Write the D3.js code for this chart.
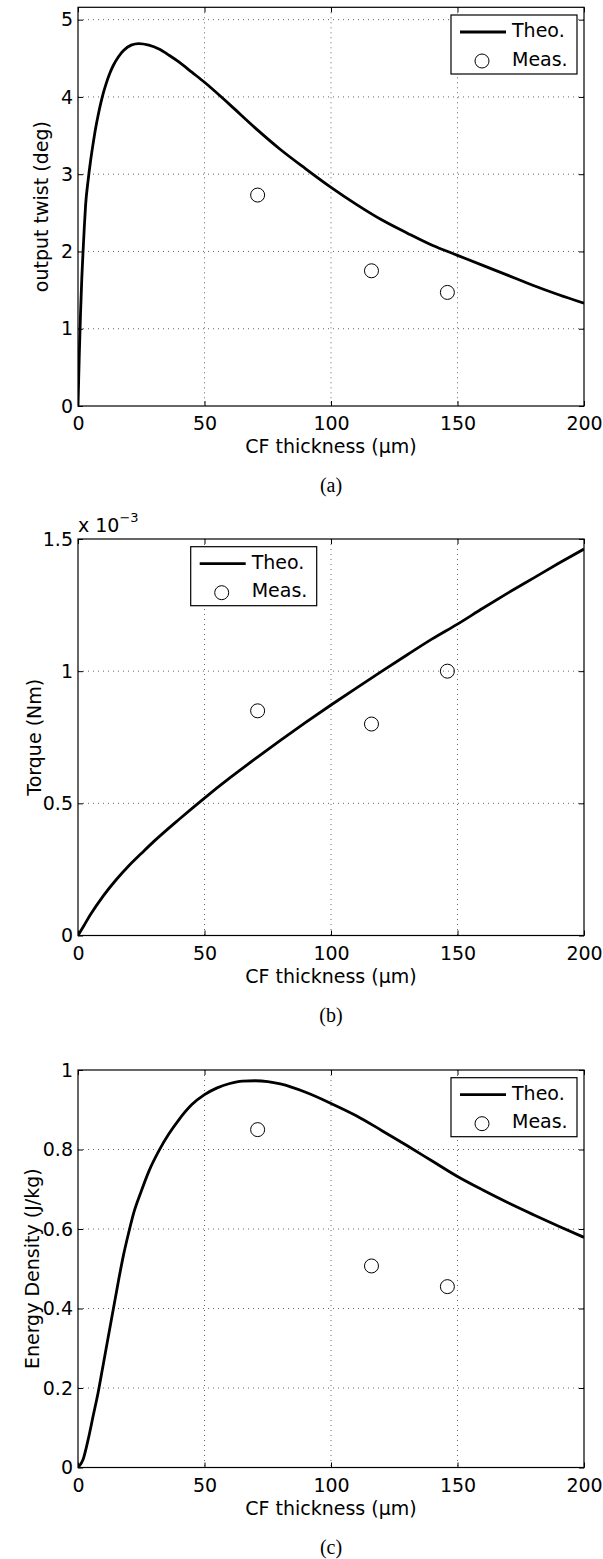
<!DOCTYPE html>
<html>
<head>
<meta charset="utf-8">
<script src="https://cdn.jsdelivr.net/npm/d3@7"></script>
<style>
  body { margin: 0; background: #fff; }
  text { font-family: "DejaVu Sans", "Liberation Sans", Arial, sans-serif; fill: #000; }
  .caption { font-family: "Liberation Serif", "Times New Roman", serif; }
</style>
</head>
<body>
<div id="main-container"></div>
<script>
// shared x axis
const xTicks = [0, 50, 100, 150, 200];
const measThickness = [71, 116, 146];

// (a) output twist (deg)
const twistX = [0, 0.5, 1, 1.5, 2, 2.5, 3, 4, 5, 6, 7, 8, 9, 10, 11, 12.5, 14, 16, 18, 21, 24, 28, 32, 36, 40, 45, 50, 60, 70, 80, 90, 100, 110, 120, 130, 140, 150, 160, 170, 180, 190, 200];
const twistTheo = [0, 0.65, 1.2, 1.65, 2.0, 2.32, 2.6, 2.92, 3.18, 3.4, 3.6, 3.77, 3.92, 4.05, 4.16, 4.3, 4.41, 4.52, 4.6, 4.67, 4.69, 4.67, 4.62, 4.54, 4.45, 4.32, 4.19, 3.9, 3.6, 3.32, 3.07, 2.83, 2.61, 2.41, 2.24, 2.08, 1.95, 1.82, 1.69, 1.56, 1.44, 1.33];
const twistMeas = [2.73, 1.75, 1.47];
const twistTicks = [0, 1, 2, 3, 4, 5];
const twistTickLabels = ['0', '1', '2', '3', '4', '5'];

// (b) torque, in units of 1e-3 Nm
const torqueX = [0, 2.5, 5, 10, 15, 20, 25, 30, 40, 50, 60, 70, 80, 90, 100, 110, 120, 130, 140, 150, 160, 170, 180, 190, 200];
const torqueTheo = [0, 0.04, 0.08, 0.15, 0.21, 0.263, 0.31, 0.356, 0.44, 0.52, 0.596, 0.668, 0.738, 0.806, 0.872, 0.936, 0.999, 1.061, 1.122, 1.178, 1.238, 1.296, 1.352, 1.408, 1.462];
const torqueMeas = [0.85, 0.80, 1.00];
const torqueTicks = [0, 0.5, 1, 1.5];
const torqueTickLabels = ['0', '0.5', '1', '1.5'];

// (c) energy density (J/kg)
const energyX = [0, 2, 4, 6, 8, 10, 12, 14, 16, 18, 20, 22, 25, 28, 32, 36, 40, 45, 50, 55, 60, 65, 70, 75, 80, 90, 100, 110, 120, 130, 140, 150, 160, 170, 180, 190, 200];
const energyTheo = [0, 0.02, 0.07, 0.13, 0.19, 0.26, 0.33, 0.40, 0.47, 0.535, 0.59, 0.64, 0.695, 0.745, 0.797, 0.84, 0.876, 0.913, 0.938, 0.955, 0.966, 0.972, 0.973, 0.971, 0.965, 0.944, 0.916, 0.885, 0.848, 0.81, 0.771, 0.732, 0.698, 0.666, 0.636, 0.607, 0.579];
const energyMeas = [0.85, 0.507, 0.455];
const energyTicks = [0, 0.2, 0.4, 0.6, 0.8, 1];
const energyTickLabels = ['0', '0.2', '0.4', '0.6', '0.8', '1'];

const width = 603;
const height = 1559;
const left = 78;
const right = 584;
const fontSize = 19;

const svg = d3.select('#main-container').append('svg').attr('width', width).attr('height', height)

function drawPanel(p) {
  const g = svg.append('g')
  const xScale = d3.scaleLinear().domain([0, 200]).range([left, right])
  const yScale = d3.scaleLinear().domain([0, p.yMax]).range([p.bottom, p.top])

  const clipId = 'clip-' + p.id
  g.append('clipPath').attr('id', clipId).append('rect')
    .attr('x', left).attr('y', p.top).attr('width', right - left).attr('height', p.bottom - p.top)

  // dotted grid
  g.selectAll('.gx').data(xTicks.slice(1, -1)).enter().append('line')
    .attr('x1', d => xScale(d)).attr('x2', d => xScale(d))
    .attr('y1', p.top).attr('y2', p.bottom)
    .attr('stroke', '#666').attr('stroke-width', 1).attr('stroke-dasharray', '1,4')
  g.selectAll('.gy').data(p.ticks.filter(t => t > 0 && t < p.yMax)).enter().append('line')
    .attr('x1', left).attr('x2', right)
    .attr('y1', d => yScale(d)).attr('y2', d => yScale(d))
    .attr('stroke', '#666').attr('stroke-width', 1).attr('stroke-dasharray', '1,4')

  // axes, ticks pointing inward
  const xAxis = d3.axisBottom(xScale).tickValues(xTicks).tickSizeInner(-5).tickSizeOuter(0).tickPadding(11)
  const yAxis = d3.axisLeft(yScale).tickValues(p.ticks).tickFormat((d, i) => p.tickLabels[i]).tickSizeInner(-5).tickSizeOuter(0).tickPadding(5)
  g.append('g').attr('transform', `translate(0,${p.bottom})`).call(xAxis)
  g.append('g').attr('transform', `translate(${left},0)`).call(yAxis)
  g.append('g').attr('transform', `translate(0,${p.top})`)
    .call(d3.axisTop(xScale).tickValues(xTicks).tickFormat('').tickSizeInner(-5).tickSizeOuter(0))
  g.append('g').attr('transform', `translate(${right},0)`)
    .call(d3.axisRight(yScale).tickValues(p.ticks.filter(t => t <= p.yMax)).tickFormat('').tickSizeInner(-5).tickSizeOuter(0))
  g.selectAll('.domain').remove()
  g.selectAll('.tick line').attr('stroke', '#000')
  g.selectAll('.tick text').style('font-size', fontSize + 'px').attr('fill', '#000')
    .style('font-family', '"DejaVu Sans", "Liberation Sans", Arial, sans-serif')

  g.append('rect').attr('x', left).attr('y', p.top).attr('width', right - left).attr('height', p.bottom - p.top)
    .attr('fill', 'none').attr('stroke', '#000').attr('stroke-width', 1.2)

  // theoretical curve
  const line = d3.line().x(d => xScale(d[0])).y(d => yScale(d[1])).curve(d3.curveMonotoneX)
  g.append('path').datum(p.x.map((v, i) => [v, p.theo[i]]))
    .attr('clip-path', `url(#${clipId})`)
    .attr('d', line).attr('fill', 'none').attr('stroke', '#000').attr('stroke-width', 2.8)
    .attr('stroke-linejoin', 'round')

  // measured points
  g.selectAll('.meas').data(p.meas).enter().append('circle')
    .attr('cx', (d, i) => xScale(measThickness[i])).attr('cy', d => yScale(d))
    .attr('r', 7).attr('fill', 'none').attr('stroke', '#000').attr('stroke-width', 1)

  // labels
  g.append('text').text('CF thickness (µm)').attr('x', (left + right) / 2).attr('y', p.bottom + 47)
    .attr('text-anchor', 'middle').style('font-size', fontSize + 'px')
  g.append('text').text(p.yLabel).attr('transform', `translate(${p.yLabelX},${(p.top + p.bottom) / 2}) rotate(-90)`)
    .attr('text-anchor', 'middle').style('font-size', fontSize + 'px')
  g.append('text').attr('class', 'caption').text(p.caption).attr('x', (left + right) / 2).attr('y', p.bottom + 86)
    .attr('text-anchor', 'middle').style('font-size', '20px')

  // legend
  const lx = p.legendX, ly = p.top + 7.7
  g.append('rect').attr('x', lx).attr('y', ly).attr('width', 126).attr('height', 59)
    .attr('fill', '#fff').attr('stroke', '#000').attr('stroke-width', 1.2)
  g.append('line').attr('x1', lx + 9).attr('x2', lx + 55).attr('y1', ly + 17).attr('y2', ly + 17)
    .attr('stroke', '#000').attr('stroke-width', 2.8)
  g.append('text').text('Theo.').attr('x', lx + 61).attr('y', ly + 22).style('font-size', fontSize + 'px')
  g.append('circle').attr('cx', lx + 31).attr('cy', ly + 46).attr('r', 7)
    .attr('fill', 'none').attr('stroke', '#000').attr('stroke-width', 1)
  g.append('text').text('Meas.').attr('x', lx + 61).attr('y', ly + 50.5).style('font-size', fontSize + 'px')

  if (p.multiplier) {
    const t = g.append('text').attr('x', left).attr('y', p.top - 7.5).style('font-size', fontSize + 'px')
    t.append('tspan').text('x 10')
    t.append('tspan').text('\u22123').attr('dy', -10).style('font-size', '13px')
  }
}

drawPanel({ id: 'a', top: 7.3, bottom: 406, yMax: 5.16, ticks: twistTicks, tickLabels: twistTickLabels,
  x: twistX, theo: twistTheo, meas: twistMeas, yLabel: 'output twist (deg)', yLabelX: 48, caption: '(a)', legendX: 451 })
drawPanel({ id: 'b', top: 539, bottom: 935.5, yMax: 1.5, ticks: torqueTicks, tickLabels: torqueTickLabels,
  x: torqueX, theo: torqueTheo, meas: torqueMeas, yLabel: 'Torque (Nm)', yLabelX: 41, caption: '(b)', legendX: 190.7, multiplier: true })
drawPanel({ id: 'c', top: 1070, bottom: 1467.5, yMax: 1, ticks: energyTicks, tickLabels: energyTickLabels,
  x: energyX, theo: energyTheo, meas: energyMeas, yLabel: 'Energy Density (J/kg)', yLabelX: 39, caption: '(c)', legendX: 451 })
</script>
</body>
</html>
